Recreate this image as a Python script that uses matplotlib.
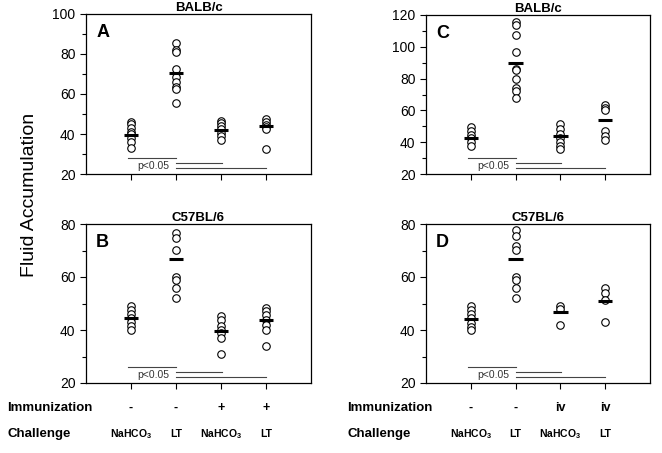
import matplotlib
matplotlib.use("Agg")
import matplotlib.pyplot as plt
from matplotlib.ticker import MultipleLocator

plt.rcParams['font.family'] = ['Liberation Sans', 'DejaVu Sans']
plt.rcParams['mathtext.fontset'] = 'custom'
plt.rcParams['mathtext.rm'] = 'Liberation Sans'
plt.rcParams['mathtext.bf'] = 'Liberation Sans:bold'

# group positions on the x axis
groups = [1, 2, 3, 4]

# panel A - BALB/c, oral immunization
A_vals = [[46, 45, 43, 41, 40, 38, 36, 33],
          [85.7, 81.8, 80.9, 72.5, 68.7, 65.8, 63.6, 62.4, 55.7],
          [46.4, 45.3, 43.9, 42.6, 40.5, 38.9, 37.2],
          [47.3, 46.1, 44.7, 43.6, 42.6, 32.6]]
A_means = [39.5, 70.5, 42.1, 43.9]

# panel B - C57BL/6
B_vals = [[48.9, 47.7, 46.2, 44.5, 43.0, 41.4, 40.1],
          [76.6, 74.7, 70.3, 60.0, 58.7, 55.8, 52.1],
          [45.2, 43.9, 41.4, 40.1, 38.9, 37.0, 31.1],
          [48.3, 47.0, 45.8, 43.9, 42.0, 39.9, 33.8]]
B_means = [44.4, 66.7, 39.7, 43.6]

# panel C - BALB/c, iv immunization
C_vals = [[49.5, 46.9, 44.8, 42.7, 40, 37.3],
          [115.8, 113.7, 107.4, 96.8, 86.3, 85.3, 80, 74.3, 72.2, 68],
          [51.6, 48.4, 45.3, 42.7, 40, 37.9, 35.8],
          [63.2, 61.7, 60, 46.9, 44.2, 41.1]]
C_means = [42.5, 89.5, 43.6, 53.7]

# panel D - C57BL/6, iv immunization
D_vals = [[48.9, 47.7, 46.2, 44.5, 42.6, 41.1, 39.9],
          [77.6, 75.6, 71.6, 70.3, 60.0, 59.0, 55.8, 52.1],
          [48.9, 47.9, 42.0],
          [55.8, 54.0, 51.4, 42.9]]
D_means = [44.3, 66.9, 46.7, 51.1]

immun_left = ['-', '-', '+', '+']
immun_right = ['-', '-', 'iv', 'iv']
challenge = [r'NaHCO$_\mathbf{3}$', 'LT', r'NaHCO$_\mathbf{3}$', 'LT']

W, H = 662, 453
fig = plt.figure(figsize=(W / 100, H / 100), dpi=100)


def make_axes(left, top, right, bottom):
    return fig.add_axes([left / W, 1 - bottom / H, (right - left) / W, (bottom - top) / H])


def draw_panel(ax, vals, means, letter, title, ymax):
    for x, v in zip(groups, vals):
        ax.plot([x] * len(v), v, 'o', mfc='white', mec='black', ms=5.4, mew=0.8, zorder=3)
    for x, m in zip(groups, means):
        ax.hlines(m, x - 0.16, x + 0.16, colors='black', lw=2.2, zorder=4)
    ax.set_xlim(0, 5)
    ax.set_ylim(20, ymax)
    ax.set_xticks(groups)
    ax.set_xticklabels([])
    ax.yaxis.set_major_locator(MultipleLocator(20))
    ax.yaxis.set_minor_locator(MultipleLocator(10))
    ax.tick_params(axis='both', direction='out', length=4, width=0.8, labelsize=10)
    ax.tick_params(axis='y', which='minor', length=3, width=0.8)
    for s in ax.spines.values():
        s.set_linewidth(0.9)
    ax.set_title(title, fontsize=9.5, fontweight='bold', pad=2)
    ax.text(0.045, 0.935, letter, transform=ax.transAxes, fontsize=13,
            fontweight='bold', va='top', ha='left')
    # significance brackets
    tr = ax.get_xaxis_transform()
    ax.plot([0.93, 2.0], [0.10, 0.10], transform=tr, color='#444444', lw=0.8, clip_on=False)
    ax.plot([2.0, 3.02], [0.068, 0.068], transform=tr, color='#444444', lw=0.8, clip_on=False)
    ax.plot([2.0, 4.0], [0.036, 0.036], transform=tr, color='#444444', lw=0.8, clip_on=False)
    ax.text(1.5, 0.05, 'p<0.05', transform=tr, fontsize=7.5, color='#333333',
            ha='center', va='center')


axA = make_axes(86, 14, 311, 174)
axB = make_axes(86, 224, 311, 383)
axC = make_axes(426, 15, 650, 174)
axD = make_axes(426, 224, 650, 383)

draw_panel(axA, A_vals, A_means, 'A', 'BALB/c', 100)
draw_panel(axB, B_vals, B_means, 'B', 'C57BL/6', 80)
draw_panel(axC, C_vals, C_means, 'C', 'BALB/c', 120)
draw_panel(axD, D_vals, D_means, 'D', 'C57BL/6', 80)

fig.text(30 / W, 1 - 195 / H, 'Fluid Accumulation', rotation=90, fontsize=14,
         ha='center', va='center')

# row labels under the lower panels
for ax, x0, immun in [(axB, 7, immun_left), (axD, 347, immun_right)]:
    fig.text(x0 / W, 1 - 408 / H, 'Immunization', fontsize=9.5, fontweight='bold',
             ha='left', va='center')
    fig.text(x0 / W, 1 - 434 / H, 'Challenge', fontsize=9.5, fontweight='bold',
             ha='left', va='center')
    tr = ax.get_xaxis_transform()
    for x, im, ch in zip(groups, immun, challenge):
        ax.text(x, 1 - (408 - 224) / 159, im, transform=tr, fontsize=9,
                fontweight='bold', ha='center', va='center', clip_on=False)
        ax.text(x, 1 - (434 - 224) / 159, ch, transform=tr, fontsize=7.5,
                fontweight='bold', ha='center', va='center', clip_on=False)

fig.savefig('out.png', dpi=100)
